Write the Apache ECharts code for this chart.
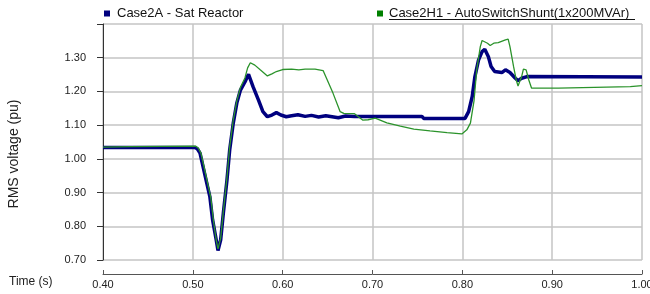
<!DOCTYPE html>
<html>
<head>
<meta charset="utf-8">
<script src="https://cdn.jsdelivr.net/npm/echarts@6/dist/echarts.min.js"></script>
<style>
html,body{margin:0;padding:0;background:#fff;}
#c{width:650px;height:294px;}
</style>
</head>
<body>
<div id="c"></div>
<script>
// ---- data ----
const seriesNames = ['Case2A - Sat Reactor', 'Case2H1 - AutoSwitchShunt(1x200MVAr)'];
const xTicks = [0.40, 0.50, 0.60, 0.70, 0.80, 0.90, 1.00];
const yTicks = [0.70, 0.80, 0.90, 1.00, 1.10, 1.20, 1.30];
const yAxisTitle = 'RMS voltage (pu)';
const xAxisTitle = 'Time (s)';

const blueT = [0.40,0.502,0.505,0.508,0.513,0.519,0.522,0.526,0.528,0.531,0.534,0.538,0.541,0.545,0.549,0.553,0.558,0.562,0.567,0.573,0.578,0.583,0.588,0.593,0.598,0.604,0.610,0.617,0.625,0.632,0.640,0.648,0.655,0.662,0.670,0.680,0.700,0.730,0.755,0.757,0.803,0.807,0.811,0.814,0.818,0.822,0.825,0.829,0.832,0.836,0.844,0.848,0.853,0.859,0.862,0.866,0.872,1.00];
const blueV = [1.034,1.034,1.030,1.017,0.958,0.887,0.819,0.760,0.728,0.760,0.840,0.937,1.026,1.106,1.166,1.204,1.228,1.251,1.214,1.175,1.140,1.125,1.130,1.137,1.130,1.125,1.128,1.131,1.126,1.129,1.124,1.128,1.125,1.122,1.127,1.126,1.126,1.126,1.126,1.120,1.120,1.140,1.185,1.244,1.293,1.318,1.325,1.303,1.274,1.259,1.256,1.264,1.256,1.239,1.232,1.239,1.244,1.243];

const greenT = [0.40,0.43,0.43,0.503,0.506,0.509,0.514,0.520,0.523,0.526,0.528,0.531,0.534,0.538,0.541,0.545,0.549,0.553,0.558,0.561,0.564,0.569,0.575,0.583,0.588,0.593,0.600,0.610,0.618,0.625,0.636,0.645,0.656,0.664,0.668,0.680,0.689,0.695,0.703,0.716,0.731,0.746,0.764,0.783,0.7995,0.8015,0.805,0.809,0.813,0.816,0.820,0.822,0.828,0.831,0.835,0.840,0.848,0.851,0.853,0.857,0.860,0.862,0.866,0.868,0.871,0.874,0.877,0.907,0.907,0.987,0.987,1.00];
const greenV = [1.035,1.036,1.038,1.038,1.032,1.017,0.958,0.885,0.815,0.760,0.733,0.765,0.845,0.945,1.035,1.115,1.172,1.212,1.240,1.270,1.285,1.278,1.264,1.246,1.252,1.259,1.265,1.266,1.264,1.266,1.266,1.262,1.195,1.140,1.135,1.134,1.115,1.116,1.121,1.107,1.097,1.088,1.083,1.078,1.074,1.074,1.086,1.106,1.172,1.264,1.333,1.351,1.343,1.336,1.343,1.345,1.353,1.355,1.333,1.274,1.234,1.216,1.244,1.266,1.264,1.234,1.210,1.210,1.214,1.214,1.217,1.217];

const FONT = 'Liberation Sans, Arial, sans-serif';
const pair = (t, v) => t.map((x, i) => [x, v[i]]);

const chart = echarts.init(document.getElementById('c'), null, {renderer: 'canvas'});
chart.setOption({
  animation: false,
  backgroundColor: '#ffffff',
  grid: {left: 103, right: 8, top: 24, bottom: 34, containLabel: false, outerBoundsMode: 'none'},
  legend: [
    {data: [seriesNames[0]], left: 104, top: 7, icon: 'rect', itemWidth: 6, itemHeight: 6, itemGap: 0, padding: 0,
     textStyle: {fontFamily: FONT, fontSize: 13, color: '#111', padding: [0,0,0,2]}},
    {data: [seriesNames[1]], left: 377, top: 7, icon: 'rect', itemWidth: 6, itemHeight: 6, itemGap: 0, padding: 0,
     textStyle: {fontFamily: FONT, fontSize: 13, color: '#111', padding: [0,0,0,1]}}
  ],
  xAxis: {
    type: 'value', min: xTicks[0], max: xTicks[xTicks.length-1], interval: 0.1,
    offset: 14,
    axisLine: {show: true, lineStyle: {color: '#555', width: 1}},
    axisTick: {show: true, inside: true, length: 4, lineStyle: {color: '#555'}},
    axisLabel: {fontFamily: FONT, fontSize: 11, color: '#222', margin: 5,
      formatter: v => v.toFixed(2)},
    splitLine: {show: true, lineStyle: {color: '#c4c4c4', width: 1.5}}
  },
  yAxis: {
    type: 'value', min: yTicks[0], max: 1.4, interval: 0.1,
    axisLine: {show: true, lineStyle: {color: '#333', width: 1}},
    axisTick: {show: true, inside: false, length: 6, lineStyle: {color: '#333'}},
    axisLabel: {fontFamily: FONT, fontSize: 11, color: '#222', margin: 17,
      formatter: v => (v > 1.35 ? '' : v.toFixed(2))},
    splitLine: {show: true, lineStyle: {color: '#c4c4c4', width: 1.5}}
  },
  graphic: [
    {type: 'text', left: 9, top: 276, style: {text: xAxisTitle, font: '12px ' + FONT, fill: '#222'}},
    {type: 'text', x: 14, y: 154, rotation: Math.PI / 2,
     style: {text: yAxisTitle, font: '14px ' + FONT, fill: '#222', align: 'center', verticalAlign: 'middle'}},
    {type: 'line', shape: {x1: 389, y1: 19.5, x2: 635, y2: 19.5}, style: {stroke: '#111', lineWidth: 1}}
  ],
  series: [
    {name: seriesNames[0], type: 'line', data: pair(blueT, blueV), showSymbol: false, symbol: 'none',
     color: '#00007f', lineStyle: {color: '#00007f', width: 3.5}, z: 2},
    {name: seriesNames[1], type: 'line', data: pair(greenT, greenV), showSymbol: false, symbol: 'none',
     color: '#008000', lineStyle: {color: '#2b932b', width: 1.3}, z: 3}
  ]
});
</script>
</body>
</html>
